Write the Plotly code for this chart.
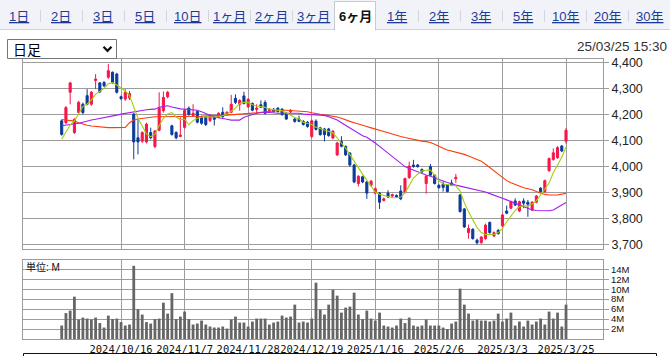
import plotly.graph_objects as go

# ---------------- data ----------------
tab_labels = ["1日", "2日", "3日", "5日", "10日", "1ヶ月", "2ヶ月", "3ヶ月",
              "6ヶ月", "1年", "2年", "3年", "5年", "10年", "20年", "30年"]
active_tab = "6ヶ月"
timestamp = "25/03/25 15:30"
bar_type = "日足"
vol_unit = "単位: M"

date_ticks = [14, 29, 44, 59, 74, 89, 104, 119]
date_labels = ["2024/10/16", "2024/11/7", "2024/11/28", "2024/12/19",
               "2025/1/16", "2025/2/6", "2025/3/3", "2025/3/25"]
price_ticks = [3700, 3800, 3900, 4000, 4100, 4200, 4300, 4400]
price_labels = ["3,700", "3,800", "3,900", "4,000", "4,100", "4,200", "4,300", "4,400"]
vol_ticks = [2, 4, 6, 8, 10, 12, 14]
vol_labels = ["2M", "4M", "6M", "8M", "10M", "12M", "14M"]

opens = [4175, 4168, 4285, 4130, 4207, 4239, 4272, 4239, 4330, 4321,
         4323, 4343, 4362, 4355, 4268, 4259, 4263, 4201, 4110, 4097,
         4094, 4130, 4076, 4139, 4214, 4268, 4156, 4130, 4115, 4150,
         4224, 4195, 4211, 4191, 4189, 4176, 4189, 4189, 4208, 4199,
         4208, 4262, 4239, 4271, 4229, 4242, 4219, 4237, 4246, 4214,
         4220, 4224, 4220, 4204, 4210, 4182, 4182, 4173, 4170, 4115,
         4174, 4148, 4144, 4144, 4109, 4044, 4096, 4077, 4051, 4005,
         3934, 3960, 3940, 3927, 3897, 3897, 3869, 3897, 3886, 3888,
         3905, 3901, 3957, 4005, 4005, 3988, 3934, 3999, 3966, 3927,
         3932, 3929, 3936, 3952, 3890, 3836, 3745, 3758, 3716, 3706,
         3722, 3784, 3732, 3754, 3771, 3828, 3839, 3867, 3828, 3867,
         3862, 3832, 3862, 3916, 3903, 3983, 4026, 4033, 4078, 4097]
highs = [4180, 4232, 4325, 4185, 4252, 4245, 4297, 4290, 4355, 4325,
         4328, 4394, 4365, 4360, 4272, 4297, 4290, 4205, 4181, 4135,
         4168, 4149, 4140, 4285, 4288, 4290, 4160, 4135, 4188, 4220,
         4230, 4239, 4215, 4195, 4192, 4200, 4192, 4208, 4227, 4212,
         4275, 4277, 4258, 4287, 4262, 4246, 4239, 4254, 4254, 4224,
         4224, 4227, 4224, 4208, 4220, 4186, 4195, 4178, 4174, 4180,
         4181, 4152, 4148, 4148, 4140, 4095, 4116, 4080, 4055, 4010,
         3966, 3964, 3944, 3948, 3918, 3901, 3880, 3908, 3895, 3892,
         3927, 3957, 4018, 4025, 4009, 3992, 3966, 4009, 3970, 3931,
         3942, 3932, 3949, 3971, 3893, 3840, 3776, 3762, 3722, 3732,
         3780, 3788, 3750, 3758, 3818, 3849, 3868, 3877, 3868, 3877,
         3871, 3866, 3890, 3920, 3949, 4034, 4069, 4078, 4082, 4147]
lows = [4118, 4162, 4239, 4125, 4201, 4200, 4235, 4233, 4297, 4282,
        4305, 4336, 4317, 4280, 4255, 4252, 4255, 4027, 4046, 4090,
        4088, 4104, 4070, 4135, 4207, 4262, 4118, 4104, 4112, 4145,
        4195, 4190, 4165, 4160, 4155, 4170, 4157, 4185, 4187, 4195,
        4204, 4240, 4214, 4238, 4225, 4212, 4201, 4224, 4200, 4210,
        4207, 4207, 4195, 4178, 4205, 4168, 4170, 4157, 4149, 4110,
        4138, 4118, 4096, 4114, 4105, 4040, 4073, 4040, 3999, 3935,
        3923, 3935, 3875, 3922, 3892, 3836, 3865, 3878, 3882, 3878,
        3870, 3896, 3952, 3995, 3995, 3975, 3895, 3962, 3930, 3914,
        3903, 3900, 3924, 3936, 3822, 3763, 3722, 3718, 3699, 3702,
        3718, 3741, 3728, 3737, 3767, 3816, 3835, 3848, 3824, 3839,
        3806, 3828, 3858, 3899, 3899, 3979, 4022, 4029, 4055, 4087]
closes = [4123, 4226, 4321, 4181, 4246, 4207, 4239, 4285, 4336, 4287,
          4310, 4368, 4323, 4285, 4261, 4285, 4280, 4094, 4094, 4130,
          4162, 4110, 4136, 4223, 4265, 4285, 4123, 4110, 4120, 4215,
          4199, 4204, 4170, 4166, 4161, 4195, 4181, 4204, 4191, 4208,
          4239, 4246, 4254, 4242, 4258, 4216, 4224, 4227, 4204, 4220,
          4211, 4211, 4199, 4182, 4216, 4173, 4173, 4161, 4153, 4175,
          4142, 4122, 4122, 4118, 4135, 4090, 4077, 4044, 4005, 3940,
          3962, 3940, 3897, 3943, 3914, 3862, 3875, 3882, 3891, 3882,
          3875, 3953, 4001, 3999, 3999, 3979, 3962, 3966, 3934, 3918,
          3919, 3903, 3927, 3958, 3826, 3767, 3761, 3722, 3706, 3728,
          3774, 3745, 3745, 3741, 3813, 3820, 3864, 3851, 3864, 3858,
          3854, 3862, 3886, 3903, 3945, 4030, 4052, 4072, 4059, 4139]

ma_short = [4104, 4135, 4160, 4175, 4205, 4230, 4240, 4255, 4278, 4290,
            4300, 4318, 4322, 4313, 4302, 4290, 4272, 4225, 4185, 4155,
            4125, 4114, 4123, 4156, 4185, 4201, 4207, 4190, 4180, 4182,
            4160, 4176, 4185, 4189, 4191, 4190, 4190, 4191, 4195, 4201,
            4212, 4224, 4242, 4246, 4246, 4237, 4232, 4230, 4227, 4220,
            4218, 4216, 4214, 4205, 4195, 4188, 4182, 4170, 4165, 4161,
            4150, 4145, 4140, 4135, 4129, 4109, 4090, 4070, 4045, 4020,
            3990, 3970, 3947, 3925, 3901, 3893, 3888, 3883, 3879, 3880,
            3882, 3898, 3925, 3955, 3970, 3983, 3985, 3986, 3966, 3945,
            3932, 3930, 3929, 3925, 3905, 3860, 3825, 3795, 3765, 3745,
            3738, 3738, 3738, 3745, 3761, 3787, 3810, 3830, 3845, 3848,
            3848, 3855, 3867, 3890, 3910, 3936, 3975, 4005, 4035, 4075]
ma_mid = [4156, 4158, 4160, 4162, 4166, 4170, 4175, 4178, 4181, 4184,
          4187, 4189, 4193, 4197, 4201, 4204, 4207, 4210, 4214, 4216,
          4218, 4219, 4220, 4227, 4230, 4233, 4228, 4223, 4221, 4220,
          4218, 4217, 4216, 4210, 4203, 4195, 4190, 4187, 4185, 4181,
          4178, 4178, 4178, 4189, 4195, 4201, 4204, 4206, 4208, 4207,
          4205, 4204, 4204, 4204, 4204, 4204, 4204, 4201, 4200, 4200,
          4199, 4198, 4196, 4191, 4185, 4178, 4168, 4158, 4148, 4138,
          4127, 4118, 4112, 4102, 4090, 4077, 4064, 4051, 4038, 4025,
          4012, 3999, 3992, 3985, 3979, 3973, 3967, 3962, 3957, 3952,
          3944, 3938, 3932, 3928, 3924, 3920, 3917, 3913, 3909, 3906,
          3901, 3895, 3890, 3884, 3877, 3871, 3864, 3857, 3851, 3845,
          3838, 3832, 3830, 3829, 3828, 3829, 3832, 3842, 3852, 3861]
ma_long = [4180, 4178, 4176, 4174, 4168, 4162, 4158, 4155, 4153, 4151,
           4150, 4149, 4149, 4149, 4149, 4150, 4168, 4178, 4182, 4184,
           4187, 4190, 4191, 4191, 4191, 4191, 4191, 4191, 4191, 4191,
           4192, 4192, 4193, 4193, 4194, 4194, 4195, 4195, 4196, 4197,
           4198, 4199, 4200, 4201, 4202, 4204, 4206, 4208, 4210, 4212,
           4213, 4215, 4216, 4216, 4215, 4215, 4214, 4212, 4210, 4206,
           4202, 4200, 4198, 4196, 4194, 4190, 4185, 4178, 4173, 4168,
           4162, 4157, 4153, 4148, 4144, 4139, 4134, 4129, 4124, 4118,
           4115, 4111, 4107, 4103, 4100, 4097, 4095, 4092, 4085, 4076,
           4070, 4063, 4059, 4055, 4050, 4046, 4040, 4033, 4027, 4020,
           4008, 3995, 3981, 3970, 3957, 3945, 3937, 3930, 3923, 3918,
           3914, 3910, 3903, 3897, 3892, 3890, 3890, 3890, 3893, 3897]

volumes = [2.7, 5.2, 5.7, 8.5, 3.9, 4.3, 4.1, 3.9, 4.3, 3.2,
           2.3, 4.7, 4.0, 4.1, 3.4, 2.7, 2.9, 14.7, 6.0, 4.9,
           3.4, 3.1, 4.0, 4.1, 7.3, 5.1, 9.2, 4.0, 4.5, 5.5,
           4.0, 2.9, 3.1, 3.7, 2.9, 2.5, 2.3, 2.3, 2.5, 2.1,
           3.9, 4.5, 3.3, 3.3, 2.5, 3.5, 4.1, 4.1, 4.1, 2.9,
           3.3, 3.5, 4.7, 4.3, 4.5, 6.9, 3.3, 3.5, 3.3, 4.1,
           11.3, 5.9, 4.9, 6.9, 9.9, 8.7, 5.3, 6.3, 6.5, 9.3,
           4.9, 4.0, 5.7, 4.1, 3.7, 5.3, 2.7, 2.5, 2.3, 2.7,
           4.1, 3.2, 4.3, 2.7, 2.5, 2.7, 3.9, 2.7, 2.7, 2.7,
           2.3, 2.0, 3.1, 3.5, 10.1, 6.9, 5.1, 3.7, 3.9, 3.7,
           3.7, 3.5, 3.7, 5.1, 3.5, 4.1, 5.3, 2.7, 3.5, 2.5,
           3.7, 2.9, 3.5, 4.1, 2.9, 5.5, 4.1, 5.3, 2.5, 6.9]

x_idx = list(range(len(closes)))

# ---------------- styles ----------------
W, H = 670, 356
PL, PR, PT, PB = 23, 603, 59, 339
RED = "#f8154a"
BLUE = "#0b3a9c"
GRID = "#9c9c9c"
TABBLUE = "#1e3a98"
FONT = "Liberation Sans, Arial, Noto Sans CJK JP, sans-serif"
JFONT = "Liberation Sans, Noto Sans CJK JP, sans-serif"


def px(x):
    return (x - PL) / (PR - PL)


def py(y):
    return (PB - y) / (PB - PT)


fig = go.Figure()

fig.add_trace(go.Candlestick(
    x=x_idx, open=opens, high=highs, low=lows, close=closes,
    increasing=dict(line=dict(color=RED, width=1), fillcolor=RED),
    decreasing=dict(line=dict(color=BLUE, width=1), fillcolor=BLUE),
    whiskerwidth=0, showlegend=False, hoverinfo="skip",
    xaxis="x", yaxis="y"))

for vals, col in [(ma_long, "#ff3c0a"), (ma_mid, "#a01ff2"), (ma_short, "#a2cf0a")]:
    fig.add_trace(go.Scatter(x=x_idx, y=vals, mode="lines",
                             line=dict(color=col, width=1.1),
                             showlegend=False, hoverinfo="skip",
                             xaxis="x", yaxis="y"))

fig.add_trace(go.Bar(x=x_idx, y=volumes, marker=dict(color="#666666", line=dict(width=0)),
                     width=0.66, showlegend=False, hoverinfo="skip",
                     xaxis="x2", yaxis="y2"))

xr = [(PL - 61.7) / 4.238, (PR - 61.7) / 4.238]
main_bottom = py(249)
vol_top = py(260)

axis_common = dict(showgrid=True, gridcolor=GRID, gridwidth=1, showline=True,
                   linecolor=GRID, linewidth=1, mirror=True, zeroline=False,
                   automargin=False)

fig.update_layout(
    width=W, height=H,
    margin=dict(l=PL, r=W - PR, t=PT, b=H - PB, autoexpand=False),
    paper_bgcolor="white", plot_bgcolor="white",
    showlegend=False,
    xaxis=dict(domain=[0, 1], range=xr, anchor="y", tickvals=date_ticks,
               showticklabels=False, ticks="", rangeslider=dict(visible=False),
               **axis_common),
    yaxis=dict(domain=[main_bottom, 1], range=[3682, 4413], side="right",
               tickvals=price_ticks, ticktext=price_labels, ticks="outside",
               ticklen=5, tickcolor=GRID, tickfont=dict(family=FONT, size=12.5, color="#222"),
               anchor="x", **axis_common),
    xaxis2=dict(domain=[0, 1], range=xr, anchor="y2", matches="x",
                tickvals=date_ticks, ticktext=date_labels, ticks="", tickangle=0,
                tickfont=dict(family="DejaVu Sans Mono, monospace", size=10.5, color="#111"),
                rangeslider=dict(visible=False), **axis_common),
    yaxis2=dict(domain=[0, vol_top], range=[0, 15.86], side="right",
                tickvals=vol_ticks, ticktext=vol_labels, ticks="outside",
                ticklen=5, tickcolor=GRID, tickfont=dict(family=FONT, size=9.5, color="#111"),
                anchor="x2", **axis_common),
)

shapes = []
# tab bar background
shapes.append(dict(type="rect", xref="paper", yref="paper", x0=px(0), x1=px(W),
                   y0=py(0), y1=py(29.5), fillcolor="#f2f3f8", line=dict(width=0), layer="below"))
shapes.append(dict(type="line", xref="paper", yref="paper", x0=px(0), x1=px(334.5),
                   y0=py(29.5), y1=py(29.5), line=dict(color="#cfd2dc", width=1)))
shapes.append(dict(type="line", xref="paper", yref="paper", x0=px(375.5), x1=px(W),
                   y0=py(29.5), y1=py(29.5), line=dict(color="#cfd2dc", width=1)))
# active tab
path = "M {a},{b} L {a},{c} L {d},{c} L {d},{b}".format(
    a=px(334.5), b=py(30.5), c=py(1.5), d=px(375.5))
shapes.append(dict(type="path", xref="paper", yref="paper", path=path,
                   fillcolor="white", line=dict(color="#c6cad5", width=1)))
# separators
for k in range(15):
    sx = 40 + 42 * k
    if sx in (334, 376):
        continue
    shapes.append(dict(type="line", xref="paper", yref="paper", x0=px(sx + 0.5), x1=px(sx + 0.5),
                       y0=py(10), y1=py(22), line=dict(color="#d2d5de", width=1)))
# dropdown
shapes.append(dict(type="rect", xref="paper", yref="paper", x0=px(7.5), x1=px(116.5),
                   y0=py(58.5), y1=py(39.5), fillcolor="white", line=dict(color="#767676", width=1)))
chev = "M {a},{b} L {c},{d} L {e},{b}".format(a=px(103.5), b=py(46.8), c=px(107.5), d=py(50.8), e=px(111.5))
shapes.append(dict(type="path", xref="paper", yref="paper", path=chev,
                   line=dict(color="#111", width=2.3)))
# bottom box
shapes.append(dict(type="rect", xref="paper", yref="paper", x0=px(23.5), x1=px(656.5),
                   y0=py(380), y1=py(353.5), line=dict(color="#111", width=1)))
fig.update_layout(shapes=shapes)

ann = []
for k, lab in enumerate(tab_labels):
    cx = 19 + 42 * k
    if lab == active_tab:
        txt = "<b>" + lab + "</b>"
        col = "#111"
    else:
        txt = "<u>" + lab + "</u>"
        col = TABBLUE
    ann.append(dict(xref="paper", yref="paper", x=px(cx), y=py(16), text=txt,
                    showarrow=False, xanchor="center", yanchor="middle",
                    font=dict(family=JFONT, size=13, color=col)))
ann.append(dict(xref="paper", yref="paper", x=px(11), y=py(49), text=bar_type,
                showarrow=False, xanchor="left", yanchor="middle",
                font=dict(family="Noto Sans CJK JP, sans-serif", size=14, color="#000")))
ann.append(dict(xref="paper", yref="paper", x=px(669), y=py(47), text=timestamp,
                showarrow=False, xanchor="right", yanchor="middle",
                font=dict(family=FONT, size=13.5, color="#333")))
ann.append(dict(xref="paper", yref="paper", x=px(24), y=py(267), text=vol_unit,
                showarrow=False, xanchor="left", yanchor="middle",
                font=dict(family=JFONT, size=10, color="#111")))
fig.update_layout(annotations=ann)

fig.write_html("out.html", config={"displayModeBar": False},
               post_script="document.body.style.margin='0px';document.body.style.overflow='hidden';")
